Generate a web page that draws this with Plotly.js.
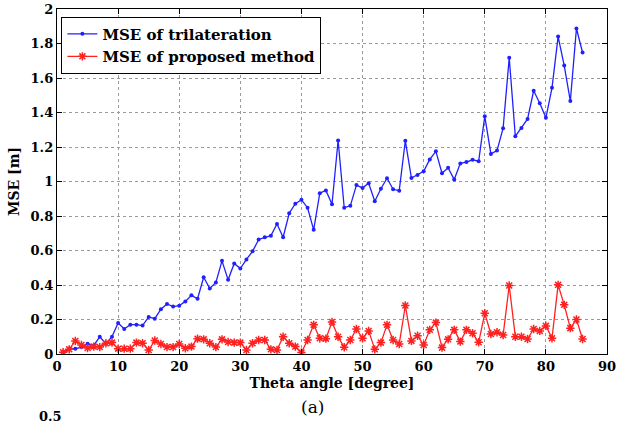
<!DOCTYPE html>
<html>
<head>
<meta charset="utf-8">
<script src="https://cdn.plot.ly/plotly-3.0.1.min.js"></script>
<style>
html,body{margin:0;padding:0;background:#fff;}
#chart{width:619px;height:423px;}
</style>
</head>
<body>
<div id="chart"></div>
<script>
const theta = [];
for (let i = 1; i <= 86; i++) theta.push(i);

const mseTrilateration = [
  0.01, 0.03, 0.03, 0.04, 0.06, 0.05, 0.10, 0.06, 0.10, 0.18,
  0.145, 0.17, 0.17, 0.165, 0.215, 0.205, 0.26, 0.29, 0.275, 0.28,
  0.305, 0.34, 0.32, 0.445, 0.38, 0.415, 0.54, 0.43, 0.525, 0.495,
  0.548, 0.595, 0.664, 0.677, 0.686, 0.754, 0.677, 0.816, 0.871, 0.894,
  0.848, 0.72, 0.932, 0.948, 0.868, 1.238, 0.848, 0.859, 0.979, 0.963,
  0.99, 0.886, 0.958, 1.019, 0.955, 0.947, 1.236, 1.02, 1.038, 1.059,
  1.128, 1.175, 1.048, 1.08, 1.011, 1.105, 1.113, 1.126, 1.118, 1.378,
  1.16, 1.179, 1.309, 1.717, 1.262, 1.31, 1.363, 1.526, 1.454, 1.369,
  1.543, 1.84, 1.672, 1.466, 1.887, 1.748
];

const mseProposed = [
  0.01, 0.027, 0.076, 0.052, 0.035, 0.043, 0.04, 0.062, 0.066, 0.031,
  0.031, 0.031, 0.066, 0.062, 0.023, 0.078, 0.058, 0.04, 0.04, 0.058,
  0.033, 0.043, 0.089, 0.085, 0.062, 0.04, 0.085, 0.07, 0.066, 0.066,
  0.023, 0.062, 0.081, 0.081, 0.027, 0.023, 0.1, 0.062, 0.043, 0.008,
  0.081, 0.169, 0.091, 0.089, 0.186, 0.1, 0.039, 0.081, 0.145, 0.091,
  0.134, 0.027, 0.066, 0.169, 0.081, 0.058, 0.281, 0.076, 0.106, 0.052,
  0.14, 0.182, 0.037, 0.085, 0.14, 0.072, 0.14, 0.12, 0.068, 0.236,
  0.116, 0.126, 0.11, 0.397, 0.1, 0.1, 0.087, 0.145, 0.134, 0.163,
  0.091, 0.401, 0.285, 0.15, 0.2, 0.087
];

const xTicks = [0, 10, 20, 30, 40, 50, 60, 70, 80, 90];
const yTicks = [0, 0.2, 0.4, 0.6, 0.8, 1, 1.2, 1.4, 1.6, 1.8, 2];
const yTickText = ["0", "0.2", "0.4", "0.6", "0.8", "1", "1.2", "1.4", "1.6", "1.8", "2"];

const serif = "DejaVu Serif";

const traces = [
  {
    x: theta, y: mseTrilateration, name: "MSE of trilateration",
    type: "scatter", mode: "lines+markers",
    line: {color: "#2020ff", width: 1.3},
    marker: {color: "#2020ff", size: 4, symbol: "circle"}
  },
  {
    x: theta, y: mseProposed, name: "MSE of proposed method",
    type: "scatter", mode: "lines+markers",
    line: {color: "#ff2020", width: 1.3},
    marker: {color: "#ff2020", size: 7, symbol: "asterisk-open", line: {color: "#ff2020", width: 1.5}}
  }
];

const axisCommon = {
  showline: true, linecolor: "#000", linewidth: 1.2, mirror: "ticks",
  ticks: "inside", ticklen: 5, tickcolor: "#000", tickwidth: 1,
  showgrid: true, gridcolor: "#9a9a9a", griddash: "dot", gridwidth: 1,
  zeroline: false,
  tickfont: {family: serif, size: 13, color: "#000", weight: "bold"}
};

const layout = {
  width: 619, height: 423,
  margin: {l: 57, r: 12, t: 9, b: 69},
  paper_bgcolor: "#fff", plot_bgcolor: "#fff",
  showlegend: true,
  legend: {
    x: 0.008, y: 0.978, xanchor: "left", yanchor: "top",
    bgcolor: "#fff", bordercolor: "#000", borderwidth: 1,
    font: {family: serif, size: 15, color: "#000", weight: "bold"},
    tracegroupgap: 0, itemwidth: 30
  },
  xaxis: Object.assign({}, axisCommon, {
    range: [0, 90], tickvals: xTicks, ticktext: xTicks.map(String),
    title: {text: "Theta angle [degree]", standoff: 5,
            font: {family: serif, size: 14, color: "#000", weight: "bold"}}
  }),
  yaxis: Object.assign({}, axisCommon, {
    range: [0, 2], tickvals: yTicks, ticktext: yTickText,
    title: {text: "MSE [m]", standoff: 7,
            font: {family: serif, size: 14, color: "#000", weight: "bold"}}
  }),
  annotations: [
    {text: "(a)", xref: "paper", yref: "paper", x: 0.465, y: -0.154,
     xanchor: "center", yanchor: "middle", showarrow: false,
     font: {family: serif, size: 17, color: "#000"}},
    {text: "0.5", xref: "paper", yref: "paper", x: -0.011, y: -0.2,
     xanchor: "center", yanchor: "bottom", showarrow: false, yshift: -3,
     font: {family: serif, size: 13, color: "#000", weight: "bold"}}
  ]
};

Plotly.newPlot("chart", traces, layout, {staticPlot: true, displayModeBar: false});
</script>
</body>
</html>
